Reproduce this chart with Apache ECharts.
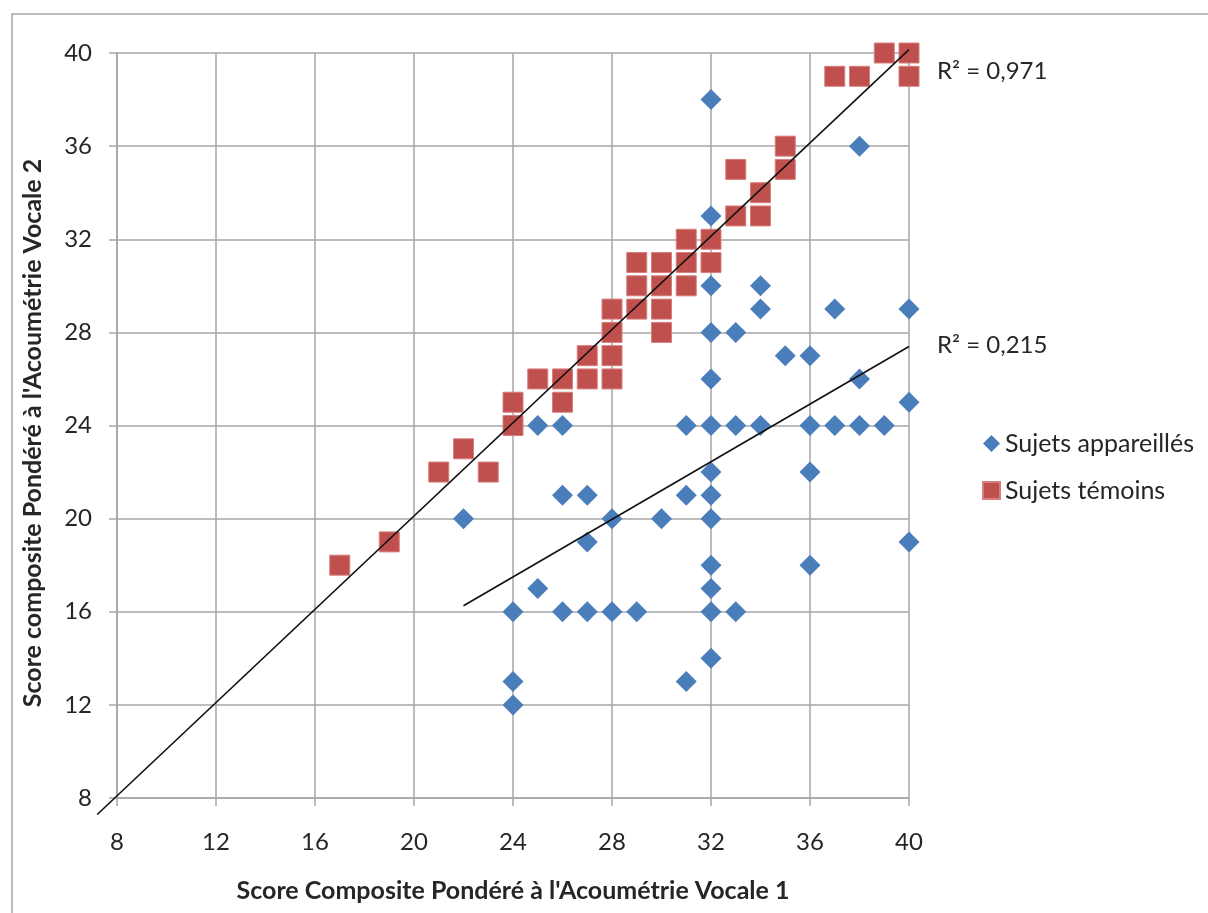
<!DOCTYPE html>
<html>
<head>
<meta charset="utf-8">
<script src="https://cdn.jsdelivr.net/npm/echarts@6/dist/echarts.min.js"></script>
<style>
html,body{margin:0;padding:0;background:#fff;}
#chart{width:1208px;height:913px;}
</style>
</head>
<body>
<div id="chart"></div>
<script>
// ---- Data ----
const seriesNames = ['Sujets appareillés', 'Sujets témoins'];
const appareillesX = [22,24,24,24,25,25,26,26,26,27,27,27,28,28,29,30,31,31,31,32,32,32,32,32,32,32,32,32,32,32,32,32,33,33,33,34,34,34,35,36,36,36,36,37,37,38,38,38,39,40,40,40];
const appareillesY = [20,16,13,12,24,17,24,21,16,21,19,16,20,16,16,20,24,21,13,38,33,30,28,26,24,22,21,20,18,17,16,14,28,24,16,30,29,24,27,27,24,22,18,29,24,36,26,24,24,29,25,19];
const temoinsX = [17,19,21,22,23,24,24,25,26,26,27,27,28,28,28,28,29,29,29,30,30,30,30,31,31,31,32,32,33,33,34,34,35,35,37,38,39,40,40];
const temoinsY = [18,19,22,23,22,24,25,26,26,25,27,26,29,28,27,26,31,30,29,31,30,29,28,32,31,30,32,31,35,33,34,33,36,35,39,39,40,40,39];
const axisTicks = [8,12,16,20,24,28,32,36,40];
const r2Labels = ['R² = 0,971', 'R² = 0,215'];
const xTitle = "Score Composite Pondéré à l'Acoumétrie Vocale 1";
const yTitle = "Score composite Pondéré à l'Acoumétrie Vocale 2";

function pairs(xs, ys){ return xs.map((x,i)=>[x, ys[i]]); }
function fit(xs, ys){
  const n = xs.length;
  const mx = xs.reduce((a,b)=>a+b,0)/n, my = ys.reduce((a,b)=>a+b,0)/n;
  let sxy=0, sxx=0;
  for(let i=0;i<n;i++){ sxy += (xs[i]-mx)*(ys[i]-my); sxx += (xs[i]-mx)*(xs[i]-mx); }
  const b = sxy/sxx, a = my - b*mx;
  return x => a + b*x;
}
const fT = fit(temoinsX, temoinsY);
const fA = fit(appareillesX, appareillesY);
// Excel-style trendline spans: témoins forecast backward, appareillés over data range
const tStart = 7.2, aStart = Math.min(...appareillesX);
const trendLines = [
  [tStart, fT(tStart), 40, fT(40)],
  [aStart, fA(aStart), 40, fA(40)]
];

const FONT = 'Lato, "Open Sans", sans-serif';
const FS_TICK = 24;
const FS_TITLE = 25;
const TXT = '#262626';
const GRIDC = '#a6a6a6';

const chart = echarts.init(document.getElementById('chart'));
chart.setOption({
  animation: false,
  backgroundColor: '#fff',
  textStyle: { fontFamily: FONT },
  grid: { left: 117, top: 53, width: 792, height: 745, containLabel: false },
  xAxis: {
    type: 'value', min: 8, max: 40, interval: 4,
    name: xTitle, nameLocation: 'middle', nameGap: 80,
    nameTextStyle: { fontFamily: FONT, fontWeight: 'bold', fontSize: FS_TITLE, color: TXT },
    axisLine: { show: true, lineStyle: { color: GRIDC, width: 1.5 } },
    axisTick: { show: true, length: 8, lineStyle: { color: GRIDC, width: 1.5 } },
    axisLabel: { fontSize: FS_TICK, color: TXT, margin: 32, fontFamily: FONT,
      formatter: v => axisTicks.includes(v) ? String(v) : '' },
    splitLine: { show: true, lineStyle: { color: GRIDC, width: 1.5 } }
  },
  yAxis: {
    type: 'value', min: 8, max: 40, interval: 4,
    axisLine: { show: true, lineStyle: { color: GRIDC, width: 1.5 } },
    axisTick: { show: true, length: 8, lineStyle: { color: GRIDC, width: 1.5 } },
    axisLabel: { fontSize: FS_TICK, color: TXT, margin: 25, fontFamily: FONT,
      formatter: v => axisTicks.includes(v) ? String(v) : '' },
    splitLine: { show: true, lineStyle: { color: GRIDC, width: 1.5 } }
  },
  legend: {
    data: [
      { name: seriesNames[0], icon: 'diamond' },
      { name: seriesNames[1], icon: 'rect' }
    ],
    orient: 'vertical', left: 982, top: 431, itemGap: 22, padding: 0,
    itemWidth: 17, itemHeight: 17,
    textStyle: { fontSize: FS_TITLE, color: TXT, fontFamily: FONT }
  },
  series: [
    {
      name: seriesNames[1], type: 'scatter', symbol: 'rect', symbolSize: 20,
      data: pairs(temoinsX, temoinsY),
      itemStyle: { color: '#C0504D', borderColor: '#d67f7d', borderWidth: 1, opacity: 1 },
      z: 3
    },
    {
      name: seriesNames[0], type: 'scatter', symbol: 'diamond', symbolSize: [21,21],
      data: pairs(appareillesX, appareillesY),
      itemStyle: { color: '#4A7EBB', opacity: 1 },
      z: 4
    },
    {
      name: 'trend', type: 'custom', clip: false, silent: true, z: 5,
      data: trendLines,
      encode: { x: [0, 2], y: [1, 3] },
      renderItem: function (params, api) {
        const p1 = api.coord([api.value(0), api.value(1)]);
        const p2 = api.coord([api.value(2), api.value(3)]);
        return {
          type: 'line',
          shape: { x1: p1[0], y1: p1[1], x2: p2[0], y2: p2[1] },
          style: { stroke: '#111', lineWidth: 1.6 }
        };
      }
    }
  ],
  graphic: [
    { type: 'rect', shape: { x: 12, y: 14, width: 1400, height: 1200 },
      style: { fill: 'none', stroke: '#a6a6a6', lineWidth: 1.5 }, silent: true, z: -10 },
    { type: 'text', x: 33, y: 433, rotation: Math.PI / 2,
      style: { text: yTitle, fontSize: FS_TITLE, fontWeight: 'bold', fill: TXT, fontFamily: FONT,
        align: 'center', verticalAlign: 'middle' } },
    { type: 'text', left: 937, top: 59,
      style: { text: r2Labels[0], fontSize: FS_TICK, fill: TXT, fontFamily: FONT } },
    { type: 'text', left: 937, top: 333,
      style: { text: r2Labels[1], fontSize: FS_TICK, fill: TXT, fontFamily: FONT } }
  ]
});
</script>
</body>
</html>
